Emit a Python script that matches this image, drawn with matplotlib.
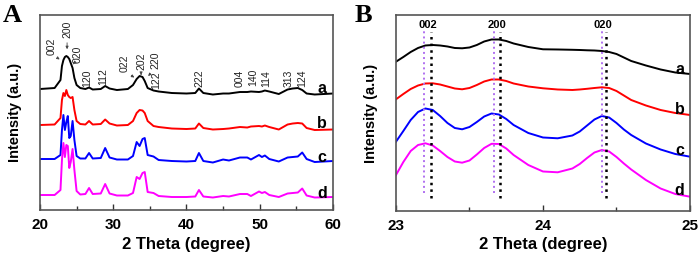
# a script that plots the XRD patterns (full range + zoom on the main peaks)

import matplotlib.pyplot as plt
import numpy as np

# ---- panel A data: 2 theta (degree) and intensities (a.u.) of the four samples
theta_a = [20, 22, 22.8, 23.0, 23.2, 23.4, 23.6, 23.8, 24.0, 24.2,
           24.45, 24.7, 25.0, 25.5, 26.2, 26.7, 27.2, 28.3, 28.9, 29.5,
           30.5, 32, 32.7, 33.2, 33.6, 34.0, 34.3, 34.7, 35.5, 36.2,
           38, 40, 41.2, 41.7, 42.3, 43.6, 45, 45.8, 47.3, 48.3,
           48.8, 49.9, 50.3, 50.7, 51.3, 52.6, 53.8, 54.5, 55.2, 55.8,
           56.4, 57.5, 60]

int_a_a = [1, 2, 10, 24, 30, 33, 34, 33, 31, 27,
           22, 12, 5, 2, 1, 2.5, 0.5, 1, 4, 1.5,
           0, 1, 5, 11, 14, 13, 9, 2, -0.5, -1.5,
           -3, -3.5, -3, 1.5, -3, -4.5, -3.5, -3.5, -2, -2,
           -1.5, -2, -1.5, -0.5, -1.5, -4, 0.5, 1.5, 2, 0,
           -3.5, -4.5, -3.5]
int_a_b = [0, 0.5, 7, 25, 32, 29, 35, 30, 28, 27,
           28, 15, 4, 1, 0.5, 4, 0.5, 1, 5.5, 1.5,
           -0.5, 0, 4, 12, 15, 14.5, 12, 4, -1, -2,
           -3.5, -4, -3.5, 1.5, -3, -4.5, -4, -3.5, -2, -2.5,
           -1.5, -1, -1.5, -0.5, -2, -4.5, 0.5, 1.5, 2, 1.5,
           -3, -5, -4.5]
int_a_c = [0, 0, 4, 29, 44, 29, 37, 43, 21, 23,
           38, 19, 3, 0.5, 0.5, 6, 0.5, 1, 11, 1.5,
           -0.5, -0.5, 3, 17, 13, 20, 21, 4, 2.5, -1,
           -2, -2.5, -2, 6, -2, -3.5, -0.5, -1.5, 1.5, 1.5,
           -0.5, 4, 2, 3.5, 0, -2.5, 1.5, 2, 2.5, 6.5,
           0, -3, -2]
int_a_d = [0, 0, 5, 35, 52, 38, 50, 49, 27, 33,
           46, 25, 4, 0.5, 1, 7, 1, 1.5, 11, 1.5,
           -0.5, -0.5, 2, 18, 16, 22, 23, 3, 2, -1,
           -2, -2, -1.5, 5, -1.5, -2.5, -1, -1.5, 1, 1,
           -1, 3.5, 2, 3, 0, -2, 1.5, 2, 2.5, 6.5,
           -0.5, -2.5, -2]

# peak labels of panel A: (label, 2 theta, text bottom)
peaks_a = [("002", 21.55, 155), ("200", 23.75, 172), ("020", 25.2, 147),
           ("120", 26.4, 123), ("112", 28.7, 125), ("022", 31.5, 138),
           ("202", 33.8, 140), ("220", 35.8, 141), ("122", 35.8, 121),
           ("222", 41.8, 123), ("004", 47.3, 123), ("140", 49.1, 124),
           ("114", 50.85, 123), ("313", 54.0, 123), ("124", 55.8, 123)]

# ---- panel B data: zoom on 23-25 degree
theta_b = [23.0, 23.05, 23.1, 23.15, 23.2, 23.25, 23.3, 23.35, 23.4, 23.45,
           23.5, 23.55, 23.6, 23.65, 23.7, 23.75, 23.8, 23.9, 24.0, 24.1,
           24.2, 24.25, 24.3, 24.35, 24.4, 24.45, 24.5, 24.55, 24.6, 24.7,
           24.8, 24.9, 25.0]

int_b_a = [14.3, 19, 24, 28, 30.5, 31, 30.5, 29.5, 28, 27.7,
           28.5, 31, 34.5, 36.5, 36.5, 35, 32.5, 29, 26.7, 26.5,
           26.2, 26, 25.7, 25.5, 25, 24, 22, 18.5, 15, 10.5,
           6.5, 3.5, 2]
int_b_b = [16.7, 22, 27, 30.5, 32.5, 32.7, 31.5, 29.5, 27.5, 26.7,
           28, 31, 34.5, 36.5, 36.5, 35, 32.5, 29.5, 27.7, 26.5,
           26, 26.5, 27.2, 28, 28.7, 28, 25, 20.5, 16, 10.5,
           6, 3, 1]
int_b_c = [15.3, 26, 37, 45, 48.5, 47, 41, 34, 29, 27.7,
           30, 35, 40.5, 43.5, 42.5, 38, 32, 24, 19.5, 18.7,
           21.5, 25.5, 31.5, 37.5, 41, 39.5, 34, 27.5, 22, 13.5,
           7.5, 3, 0.3]
int_b_d = [22, 35, 46, 52, 53.7, 51.5, 46, 40, 35.5, 34.3,
           36.5, 42.5, 49, 53.2, 53, 48.5, 42, 32, 25.5, 24.7,
           28.5, 33, 39, 44.5, 47, 45.5, 40, 33.5, 27.5, 17,
           8.5, 3, 0.3]

# reference positions (dotted lines) and labels in panel B
ref_violet = [23.19, 23.665, 24.4]
ref_black = [23.24, 23.71, 24.43]
hkl_b = ["002", "200", "020"]

sample_names = ["a", "b", "c", "d"]
colors = ["black", "red", "blue", "magenta"]


def style_axes(ax):
    for spine in ax.spines.values():
        spine.set_color("#555555")
        spine.set_linewidth(1.2)
    ax.set_yticks([])
    ax.tick_params(axis="x", which="both", direction="in", top=False,
                   labelsize=11, pad=6, colors="#333333", labelcolor="black")
    ax.tick_params(axis="x", which="major", length=4, width=1)
    ax.tick_params(axis="x", which="minor", length=3, width=1)
    for lab in ax.get_xticklabels():
        lab.set_fontweight("bold")
    ax.set_xlabel("2 Theta (degree)", fontsize=12, fontweight="bold", labelpad=3)
    ax.set_ylabel("Intensity (a.u.)", fontsize=10.5, fontweight="bold", labelpad=13)


def plot_graphs():
    plt.rcParams["font.family"] = ["Liberation Sans", "DejaVu Sans"]

    fig = plt.figure(figsize=(7, 2.54), dpi=100)
    ax1 = fig.add_axes([0.0571, 0.1732, 0.4186, 0.7677])
    ax2 = fig.add_axes([0.5657, 0.1693, 0.42, 0.7717])

    # ---- panel A
    offsets_a = [120, 85, 51, 15]
    curves_a = [int_a_a, int_a_b, int_a_c, int_a_d]
    for y, off, col, name in zip(curves_a, offsets_a, colors, sample_names):
        ax1.plot(theta_a, np.array(y) + off, color=col, lw=1.4)
        ax1.text(58.5, off + 2, name, fontsize=11.5, fontweight="bold",
                 ha="center", va="center")

    for lab, x, y in peaks_a:
        ax1.text(x, y, lab, rotation=90, fontsize=7.5, color="#222222",
                 ha="center", va="bottom")

    # arrows pointing from some labels to the peaks
    arrows = [((22.2, 153), (23.0, 149)), ((23.7, 170), (23.7, 158)),
              ((24.8, 148), (24.25, 144)), ((32.15, 136), (33.2, 131)),
              ((33.8, 139), (33.8, 135)), ((35.3, 138), (34.5, 132))]
    for start, end in arrows:
        ax1.annotate("", xy=end, xytext=start,
                     arrowprops=dict(arrowstyle="-|>", color="#444444",
                                     lw=0.6, mutation_scale=4))

    ax1.set_xlim(20, 60)
    ax1.set_ylim(0, 195)
    ax1.set_xticks([20, 30, 40, 50, 60])
    ax1.set_xticks([25, 35, 45, 55], minor=True)
    style_axes(ax1)

    # ---- panel B
    offsets_b = [135, 95, 54, 14]
    curves_b = [int_b_a, int_b_b, int_b_c, int_b_d]
    for y, off, col, name in zip(curves_b, offsets_b, colors, sample_names):
        ax2.plot(theta_b, np.array(y) + off, color=col, lw=1.4)
        ax2.text(24.93, off + 6, name, fontsize=11.5, fontweight="bold",
                 ha="center", va="center")

    for xv in ref_violet:
        ax2.plot([xv, xv], [18, 181], color="#b070f0", ls=":", lw=1.4)
    for xb, lab in zip(ref_black, hkl_b):
        ax2.plot([xb, xb], [13, 179], color="black", ls=":", lw=1.8)
        ax2.text(xb - 0.02, 186, lab, fontsize=8, fontweight="bold",
                 ha="center", va="center")

    ax2.set_xlim(23, 25)
    ax2.set_ylim(0, 196)
    ax2.set_xticks([23, 24, 25])
    ax2.set_xticks([23.5, 24.5], minor=True)
    style_axes(ax2)

    # panel letters
    fig.text(0.004, 0.985, "A", fontsize=19, fontweight="bold",
             family="Liberation Serif", va="top", ha="left")
    fig.text(0.507, 0.985, "B", fontsize=19, fontweight="bold",
             family="Liberation Serif", va="top", ha="left")

    plt.savefig("out.png", dpi=100)
    plt.close()


if __name__ == "__main__":
    plot_graphs()
